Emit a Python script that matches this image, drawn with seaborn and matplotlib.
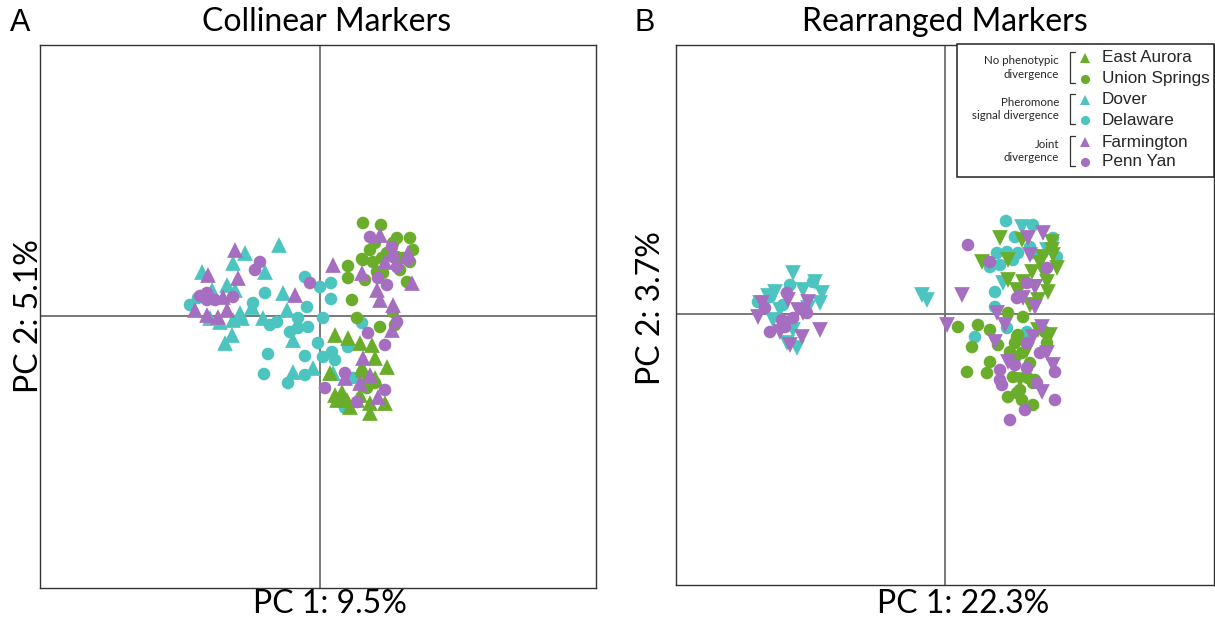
import matplotlib
matplotlib.use("Agg")
import matplotlib.pyplot as plt
from matplotlib.lines import Line2D
from matplotlib.patches import Rectangle
import pandas as pd
import seaborn as sns

# ---- PCA scores (PC1, PC2) per population -------------------------------
populations = ["East Aurora", "Union Springs", "Dover", "Delaware", "Farmington", "Penn Yan"]
group_labels = ["No phenotypic\ndivergence", "Pheromone\nsignal divergence", "Joint\ndivergence"]

collinear_east_aurora = [(1.5, -1.9), (2.8, -2.2), (5.2, -2.9), (5.5, -4.2), (6.7, -5.1), (1.0, -5.7),
                         (2.2, -7.6), (1.7, -8.4), (2.7, -8.4), (5.0, -9.7), (5.0, -8.7), (6.5, -8.7),
                         (4.0, -7.9), (4.2, -5.1), (4.0, -2.7), (3.0, -9.1), (1.5, -7.9), (4.5, -6.4),
                         (5.5, -6.2), (2.3, -8.2), (3.7, -8.4), (4.3, -5.4)]
collinear_union_springs = [(4.3, 9.3), (6.1, 9.1), (2.8, 5.0), (2.8, 3.8), (4.3, 5.6), (4.5, 3.6),
                           (5.3, 5.4), (5.5, 7.3), (7.7, 7.8), (9.0, 7.8), (9.3, 6.6), (9.0, 5.4),
                           (8.0, 4.6), (7.3, 7.3), (6.7, 6.3), (8.7, 3.4), (3.2, 1.6), (3.7, -0.2),
                           (6.0, -1.1), (7.3, 0.4), (7.5, -0.9), (5.7, 4.4), (5.5, -6.7), (4.7, -7.2),
                           (8.3, 5.8), (6.2, 5.8), (6.3, 4.3), (7.7, 5.9), (4.2, 5.7), (5.0, 6.6)]
collinear_dover = [(-4.1, 7.1), (-7.5, 6.3), (-8.7, 5.3), (-11.8, 4.4), (-5.5, 4.4), (-9.3, 3.1),
                   (-8.5, 2.6), (-10.8, 2.6), (-6.8, 0.9), (-3.7, 2.3), (-3.3, 0.6), (-5.7, -0.2),
                   (-7.8, -0.2), (-8.7, -0.4), (-10.0, -0.6), (-8.8, -1.9), (-9.5, -2.7), (-2.7, -2.4),
                   (-2.7, -5.6), (-0.7, -5.2), (1.3, -5.7), (-11.0, -0.2), (-8.0, 0.3)]
collinear_delaware = [(-1.5, 3.9), (0.0, 2.9), (1.1, 3.3), (1.1, 1.7), (-5.5, 2.3), (-1.3, 0.9),
                      (-6.7, 1.3), (-2.2, -0.2), (0.3, -0.2), (-4.3, -0.6), (-5.0, -0.9), (-3.0, -1.6),
                      (-2.2, -1.2), (-1.2, -1.1), (-0.2, -2.7), (0.3, -4.1), (1.2, -3.6), (1.5, -4.4),
                      (-1.5, -4.0), (-5.2, -3.8), (-5.6, -5.8), (-3.2, -6.7), (-1.5, -5.9), (4.2, -0.7),
                      (2.8, -3.1), (2.5, -9.2), (-12.2, 1.8), (-13.0, 1.1), (3.3, -6.2)]
collinear_farmington = [(-8.5, 6.6), (-11.2, 4.1), (-8.2, 3.8), (-2.5, 2.1), (1.3, 5.1), (-12.5, 0.6),
                        (-11.3, 0.1), (-10.2, -0.1), (-9.7, 1.9), (-9.3, 0.6), (6.0, 8.1), (4.2, 4.3),
                        (5.7, 2.6), (6.0, 1.6), (7.3, 1.1), (9.2, 3.3), (7.2, -1.4), (4.3, -4.2),
                        (2.5, -6.2), (5.0, -5.9), (4.0, -6.7), (5.8, -8.1), (8.8, 6.3), (6.5, 5.4)]
collinear_penn_yan = [(-6.0, 5.4), (-6.5, 4.6), (-1.0, 3.3), (-11.3, 2.3), (-11.3, 1.6), (-8.7, 1.9),
                      (5.0, 7.9), (7.2, 6.9), (7.3, 5.9), (7.7, 4.9), (8.8, 5.6), (5.8, 3.8),
                      (6.7, 3.1), (7.7, -0.6), (4.8, -1.7), (6.5, -2.9), (2.5, -5.7), (0.5, -7.2),
                      (3.7, -8.6), (6.5, -7.4), (-12.0, 2.0), (-10.5, 1.6)]

rearranged_east_aurora = [(5.5, 7.6), (7.7, 7.4), (10.7, 7.2), (3.7, 5.2), (6.3, 5.4), (8.7, 4.2),
                          (10.8, 5.9), (11.2, 4.6), (6.3, 3.4), (7.8, 3.2), (10.2, 3.2), (7.2, 2.4),
                          (10.3, 2.2), (8.5, 0.9), (9.3, 1.4), (10.5, -2.1), (9.3, -1.6), (8.2, -3.6),
                          (7.2, -4.6), (7.5, -6.6), (9.8, 5.7), (9.5, 5.1), (10.7, 6.4), (9.0, 2.7),
                          (7.3, 2.2), (10.0, 3.9)]
rearranged_union_springs = [(1.3, -1.3), (3.3, -1.1), (4.5, -1.6), (2.7, -3.3), (2.2, -5.8), (4.2, -5.9),
                            (4.5, -4.8), (6.3, 0.1), (7.8, -0.3), (5.3, -3.1), (7.2, -2.3), (6.5, -3.8),
                            (6.8, -6.3), (6.3, -8.3), (7.5, -7.6), (8.8, -9.1), (8.5, -4.9), (9.0, -6.6),
                            (10.2, -2.9), (10.0, -1.8), (7.7, -3.9), (7.2, -7.9), (7.3, -2.1), (8.3, -6.4),
                            (7.7, -8.6), (7.0, -2.9), (8.8, -6.9)]
rearranged_dover = [(-15.2, 4.1), (-17.0, 2.2), (-13.0, 3.2), (-12.3, 2.1), (-12.5, 1.1), (-18.5, 1.1),
                    (-16.5, 0.4), (-14.2, 2.4), (-15.2, -1.6), (-14.8, -3.4), (-15.8, -2.9), (-17.2, -0.6),
                    (-2.3, 1.9), (-1.8, 1.4), (7.7, 8.7), (5.8, 3.1), (10.2, 6.4), (-17.7, 1.8),
                    (-13.7, 0.6)]
rearranged_delaware = [(-15.5, 2.9), (-13.2, 3.2), (-18.7, 1.2), (-17.5, 1.7), (6.1, 9.3), (8.8, 8.9),
                       (10.8, 7.6), (5.2, 6.1), (6.2, 6.2), (7.3, 6.1), (4.5, 4.7), (5.5, 4.9),
                       (6.8, 5.4), (5.0, 2.2), (5.0, 0.7), (8.5, 6.7), (11.2, 5.7), (6.2, -1.4),
                       (3.0, -2.3), (8.2, -1.8), (8.8, 6.1), (-16.2, 0.9), (7.0, 7.7)]
rearranged_farmington = [(-18.3, 1.1), (-18.7, -0.3), (-15.7, 1.4), (-14.7, 0.4), (-13.7, 1.2), (-14.2, 0.1),
                         (-12.5, -1.6), (-14.3, -2.3), (-15.5, -3.1), (-16.5, -1.8), (1.7, 1.9), (0.2, -1.1),
                         (8.3, 7.6), (9.8, 8.1), (8.5, 5.9), (5.2, 0.1), (6.0, -1.1), (9.0, 0.7),
                         (9.7, -1.3), (8.8, -2.3), (10.2, -3.9), (10.8, -5.1), (6.3, -4.8), (5.0, -2.8),
                         (9.7, -7.8), (7.8, 1.6), (9.0, 2.7)]
rearranged_penn_yan = [(-15.8, 2.1), (-16.3, -0.6), (-15.2, -0.4), (-17.5, -1.8), (-13.8, 0.1), (-18.0, 0.6),
                       (-16.0, -1.3), (2.3, 6.9), (4.5, 5.2), (7.2, 1.6), (8.2, 3.1), (10.2, 4.6),
                       (8.2, -2.9), (9.5, -3.9), (11.0, -5.8), (11.0, -8.6), (8.0, -9.6), (6.5, -10.6),
                       (5.5, -5.6), (5.5, -6.6), (9.2, -6.9), (7.0, -5.1), (8.2, -5.4), (5.7, -7.1)]

panel_titles = ["Collinear Markers", "Rearranged Markers"]
panel_letters = ["A", "B"]
x_labels = ["PC 1: 9.5%", "PC 1: 22.3%"]
y_labels = ["PC 2: 5.1%", "PC 2: 3.7%"]

# ---- styling -------------------------------------------------------------
GREEN, CYAN, PURPLE = "#6aad2b", "#4cc4bf", "#a56ec1"
palette = {"East Aurora": GREEN, "Union Springs": GREEN,
           "Dover": CYAN, "Delaware": CYAN,
           "Farmington": PURPLE, "Penn Yan": PURPLE}
triangle_pops = {"East Aurora", "Dover", "Farmington"}
draw_order = ["Delaware", "Dover", "Union Springs", "East Aurora", "Penn Yan", "Farmington"]


def to_frame(series):
    rows = []
    for pop, pts in series.items():
        for pc1, pc2 in pts:
            rows.append({"population": pop, "PC1": pc1, "PC2": pc2})
    return pd.DataFrame(rows)


collinear = to_frame({
    "East Aurora": collinear_east_aurora, "Union Springs": collinear_union_springs,
    "Dover": collinear_dover, "Delaware": collinear_delaware,
    "Farmington": collinear_farmington, "Penn Yan": collinear_penn_yan})
rearranged = to_frame({
    "East Aurora": rearranged_east_aurora, "Union Springs": rearranged_union_springs,
    "Dover": rearranged_dover, "Delaware": rearranged_delaware,
    "Farmington": rearranged_farmington, "Penn Yan": rearranged_penn_yan})

sns.set_style("white")
plt.rcParams["font.family"] = ["Lato", "DejaVu Sans"]

W, H = 1215, 620
fig = plt.figure(figsize=(W / 100, H / 100), dpi=100)


def fx(px):
    return px / W


def fy(py):
    return 1 - py / H


ax_a = fig.add_axes([fx(40), fy(588), fx(596) - fx(40), fy(45) - fy(588)])
ax_b = fig.add_axes([fx(676), fy(585), fx(1214) - fx(676), fy(45) - fy(585)])


def draw_panel(ax, df, tri_marker, xlim, ylim):
    for pop in draw_order:
        sub = df[df["population"] == pop]
        is_tri = pop in triangle_pops
        sns.scatterplot(data=sub, x="PC1", y="PC2", hue="population", palette=palette,
                        marker=tri_marker if is_tri else "o", s=128 if is_tri else 82,
                        linewidth=0, alpha=1.0, legend=False, ax=ax, zorder=3)
    ax.axhline(0, color="#6e6e6e", lw=1.3, zorder=1)
    ax.axvline(0, color="#6e6e6e", lw=1.3, zorder=1)
    ax.set_xlim(*xlim)
    ax.set_ylim(*ylim)
    ax.set_xticks([])
    ax.set_yticks([])
    ax.set_xlabel("")
    ax.set_ylabel("")
    for sp in ax.spines.values():
        sp.set_color("#333333")
        sp.set_linewidth(1.0)


draw_panel(ax_a, collinear, "^", (-28.0, 27.6), (-27.2, 27.1))
draw_panel(ax_b, rearranged, "v", (-26.9, 26.9), (-27.1, 26.9))

# ---- titles and axis labels -----------------------------------------------
title_kw = dict(fontsize=23, ha="center", va="center", color="black")
fig.text(fx(327), fy(22), panel_titles[0], **title_kw)
fig.text(fx(945), fy(22), panel_titles[1], **title_kw)
letter_kw = dict(fontsize=22, ha="center", va="center", color="black",
                 family=["Liberation Sans", "DejaVu Sans"])
fig.text(fx(20), fy(23), panel_letters[0], **letter_kw)
fig.text(fx(645), fy(23), panel_letters[1], **letter_kw)

lab_kw = dict(fontsize=23, ha="center", va="center", color="black")
fig.text(fx(330), fy(604), x_labels[0], **lab_kw)
fig.text(fx(963), fy(604), x_labels[1], **lab_kw)
fig.text(fx(29), fy(316), y_labels[0], rotation=90, **lab_kw)
fig.text(fx(651), fy(308), y_labels[1], rotation=90, **lab_kw)

# ---- grouped legend in the corner of panel B -------------------------------
fig.add_artist(Rectangle((fx(957), fy(177)), fx(1214) - fx(957), fy(44) - fy(177),
                         transform=fig.transFigure, facecolor="white",
                         edgecolor="#222222", lw=1.1, zorder=5))
row_y = [58, 79, 100, 120, 142, 162]
for i, pop in enumerate(populations):
    is_tri = pop in triangle_pops
    fig.add_artist(Line2D([fx(1085)], [fy(row_y[i])], transform=fig.transFigure,
                          marker="^" if is_tri else "o", markersize=7.4 if is_tri else 6.6,
                          markerfacecolor=palette[pop], markeredgewidth=0,
                          linestyle="none", zorder=6))
    fig.text(fx(1102), fy(row_y[i]), pop, fontsize=12.3, ha="left", va="center",
             family=["Liberation Sans", "DejaVu Sans"], zorder=6)

for g, label in enumerate(group_labels):
    y_top, y_bot = row_y[2 * g] - 6, row_y[2 * g + 1] + 4
    fig.text(fx(1059), fy((y_top + y_bot) / 2), label, fontsize=8.3, ha="right",
             va="center", linespacing=1.3, zorder=6)
    fig.add_artist(Line2D([fx(1075), fx(1070), fx(1070), fx(1075)],
                          [fy(y_top), fy(y_top), fy(y_bot), fy(y_bot)],
                          transform=fig.transFigure, color="#333333", lw=0.9, zorder=6))

fig.savefig("out.png", dpi=100)
